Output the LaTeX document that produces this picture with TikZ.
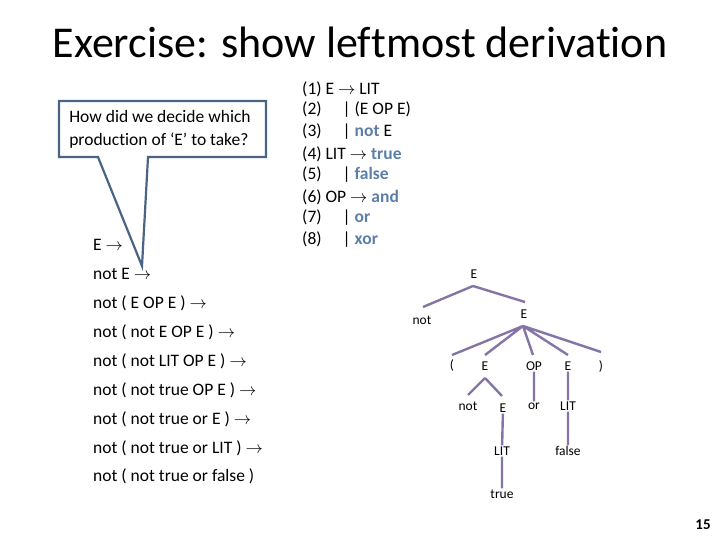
\documentclass[tikz,border=0pt]{standalone}
\usepackage{fontspec}
\setmainfont[Ligatures=CommonOff]{Carlito}
\begin{document}
\begin{tikzpicture}[x=1pt,y=-1pt,
  txt/.style={anchor=west,inner sep=0pt,font=\fontsize{17.5}{19}\selectfont},
  tn/.style={inner sep=1pt,font=\fontsize{13.5}{15}\selectfont},
  tl/.style={draw=tlc,line width=2.4pt}]
\definecolor{tlc}{HTML}{8574A6}
\definecolor{kwc}{HTML}{5B7FA8}
\definecolor{cal}{HTML}{4A6484}
\useasboundingbox (0,0) rectangle (720,540);
\node[font=\fontsize{44}{48}\selectfont] (title) at (360,42) {Exercise: show leftmost derivation};
% callout
\draw[draw=cal,line width=2.2pt,fill=white,line join=miter]
  (59,101) -- (266,101) -- (266,157) -- (148,157) -- (142,266) -- (98,157) -- (59,157) -- cycle;
\node[align=left,font=\fontsize{17.5}{23}\selectfont] (q) at (160,129) {How did we decide which\\production of ‘E’ to take?};
% grammar
\node[txt] (g1) at (302,89) {(1) E $\rightarrow$ LIT};
\node[txt] (g2) at (302,110) {(2)\hspace{1.2em}| (E OP E)};
\node[txt] (g3) at (302,132) {(3)\hspace{1.2em}| {\color{kwc}\bfseries not} E};
\node[txt] (g4) at (302,154) {(4) LIT $\rightarrow$ {\color{kwc}\bfseries true}};
\node[txt] (g5) at (302,175) {(5)\hspace{1.2em}| {\color{kwc}\bfseries false}};
\node[txt] (g6) at (302,197) {(6) OP $\rightarrow$ {\color{kwc}\bfseries and}};
\node[txt] (g7) at (302,218) {(7)\hspace{1.2em}| {\color{kwc}\bfseries or}};
\node[txt] (g8) at (302,240) {(8)\hspace{1.2em}| {\color{kwc}\bfseries xor}};
% derivation
\node[txt] (d0) at (93,245) {E $\rightarrow$};
\node[txt] (d1) at (93,274) {not E $\rightarrow$};
\node[txt] (d2) at (93,303) {not ( E OP E ) $\rightarrow$};
\node[txt] (d3) at (93,332) {not ( not E OP E ) $\rightarrow$};
\node[txt] (d4) at (93,361) {not ( not LIT OP E ) $\rightarrow$};
\node[txt] (d5) at (93,390) {not ( not true OP E ) $\rightarrow$};
\node[txt] (d6) at (93,419) {not ( not true or E ) $\rightarrow$};
\node[txt] (d7) at (93,448) {not ( not true or LIT ) $\rightarrow$};
\node[txt] (d8) at (93,476) {not ( not true or false )};
% tree
\node[tn] (r) at (474,274) {E};
\node[tn] (n1) at (422,320) {not};
\node[tn] (e1) at (524,314) {E};
\node[tn] (lp) at (452,366) {(};
\node[tn] (e2) at (485,366) {E};
\node[tn] (op) at (534,366) {OP};
\node[tn] (e3) at (568,366) {E};
\node[tn] (rp) at (601,366) {)};
\node[tn] (n2) at (468,406) {not};
\node[tn] (e4) at (503,408) {E};
\node[tn] (or) at (534,406) {or};
\node[tn] (l1) at (568,406) {LIT};
\node[tn] (l2) at (502,451) {LIT};
\node[tn] (fa) at (568,451) {false};
\node[tn] (tr) at (502,494) {true};
\coordinate (rb) at (473,286);
\coordinate (eb) at (523,326);
\coordinate (e2b) at (485,378);
\draw[tl] (rb) -- (423,307) (rb) -- (525,302);
\draw[tl] (eb) -- (452,355) (eb) -- (485,355) (eb) -- (533,355) (eb) -- (568,355) (eb) -- (601,352);
\draw[tl] (e2b) -- (468,395) (e2b) -- (502,396);
\draw[tl] (op) -- (or) (e3) -- (l1) (e4) -- (l2) (l2) -- (tr) (l1) -- (fa);
\node[font=\bfseries\fontsize{15}{17}\selectfont] (pg) at (703,525) {15};
\end{tikzpicture}
\end{document}
